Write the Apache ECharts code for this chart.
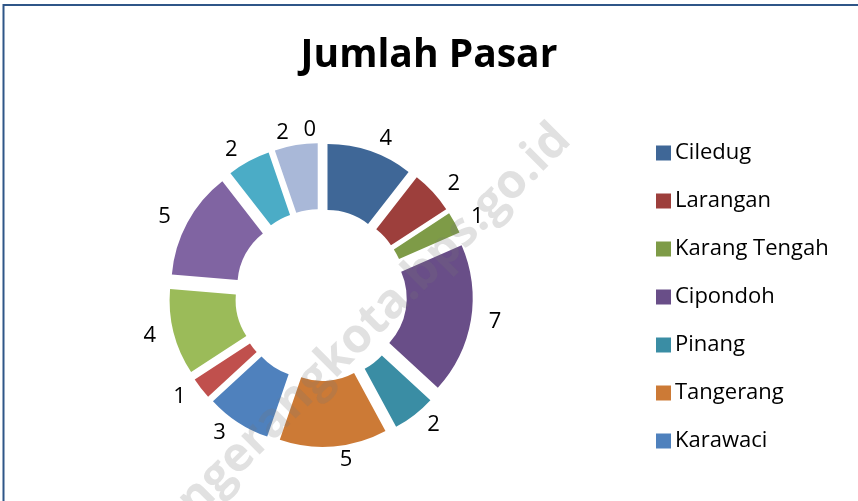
<!DOCTYPE html>
<html>
<head>
<meta charset="utf-8">
<script src="https://cdn.jsdelivr.net/npm/echarts@6/dist/echarts.min.js"></script>
<style>
  html, body { margin: 0; padding: 0; background: #fff; }
  #chart { width: 858px; height: 501px; }
</style>
</head>
<body>
<div id="chart"></div>
<script>
// kecamatan, clockwise from the top
var districts = ['Ciledug', 'Larangan', 'Karang Tengah', 'Cipondoh', 'Pinang', 'Tangerang', 'Karawaci',
  'Jatiuwung', 'Cibodas', 'Periuk', 'Batuceper', 'Neglasari', 'Benda']
var markets = [4, 2, 1, 7, 2, 5, 3, 1, 4, 5, 2, 2, 0]
var sliceColors = ['#3F6797', '#9D3F3C', '#7E9B47', '#694E88', '#3A8DA4', '#CC7A36', '#4F81BD',
  '#C0504D', '#9BBB59', '#8064A2', '#4BACC6', '#A9B8D8', '#F79646']
// legend only shows the first seven in the original
var legendNames = districts.slice(0, 7)

var chart = echarts.init(document.getElementById('chart'))
var font = '"Open Sans", "Noto Sans", sans-serif'

var option = {
  animation: false,
  backgroundColor: '#fff',
  title: {
    text: 'Jumlah Pasar',
    left: 'center',
    top: 31,
    textStyle: { fontFamily: font, fontSize: 39, fontWeight: 'bold', color: '#000' }
  },
  legend: {
    orient: 'vertical',
    left: 651,
    top: 137,
    icon: 'rect',
    itemWidth: 15,
    itemHeight: 15,
    itemGap: 26,
    data: legendNames,
    textStyle: { fontFamily: font, fontSize: 22, color: '#000', padding: [0, 0, 0, -1] },
    selectedMode: false
  },
  graphic: [
    { type: 'line', shape: { x1: 3.5, y1: 4, x2: 3.5, y2: 501 }, style: { stroke: '#2F5688', lineWidth: 2 } },
    { type: 'line', shape: { x1: 3, y1: 5, x2: 858, y2: 5 }, style: { stroke: '#2F5688', lineWidth: 2 } },
    {
      type: 'text',
      x: 563,
      y: 132,
      rotation: Math.PI / 4,
      z: 100,
      style: {
        text: 'tangerangkota.bps.go.id',
        font: 'bold 48px ' + font,
        fill: 'rgba(120,120,120,0.22)',
        textAlign: 'right',
        textVerticalAlign: 'middle'
      }
    }
  ],
  series: [{
    type: 'pie',
    center: [321, 295],
    radius: [66, 132],
    startAngle: 90,
    clockwise: true,
    selectedMode: 'multiple',
    selectedOffset: 20,
    avoidLabelOverlap: false,
    silent: true,
    label: {
      show: true,
      position: 'outside',
      formatter: '{c}',
      fontFamily: font,
      fontSize: 22,
      color: '#000'
    },
    labelLine: { show: false, length: 13, length2: 0 },
    emphasis: { disabled: true },
    data: districts.map(function (name, i) {
      return { name: name, value: markets[i], selected: true, itemStyle: { color: sliceColors[i] } }
    })
  }]
}

chart.setOption(option)
</script>
</body>
</html>
